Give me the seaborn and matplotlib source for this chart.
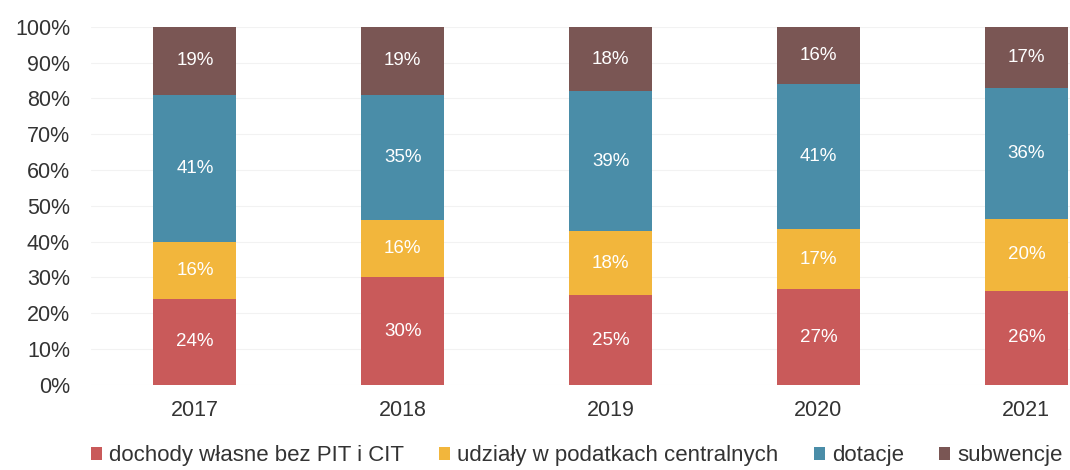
import matplotlib
matplotlib.use("Agg")
import matplotlib.pyplot as plt
from matplotlib.patches import Patch
from matplotlib.ticker import PercentFormatter
import seaborn as sns
import numpy as np

years = ["2017", "2018", "2019", "2020", "2021"]
series_names = ["dochody własne bez PIT i CIT", "udziały w podatkach centralnych", "dotacje", "subwencje"]
dochody = [24, 30, 25, 27, 26]
udzialy = [16, 16, 18, 17, 20]
dotacje = [41, 35, 39, 41, 36]
subwencje = [19, 19, 18, 16, 17]
colors = ["#c95a5a", "#f2b63c", "#4a8da8", "#7a5654"]

sns.set_theme(style="white")
plt.rcParams["font.family"] = ["Liberation Sans", "DejaVu Sans"]

fig = plt.figure(figsize=(10.7, 4.7), dpi=100)
ax = fig.add_axes([0.085, 0.181, 0.915, 0.762])

vals = np.array([dochody, udzialy, dotacje, subwencje], dtype=float)
shares = vals / vals.sum(axis=0)
bottom = np.zeros(len(years))
for i, name in enumerate(series_names):
    sns.barplot(x=years, y=shares[i], bottom=bottom, color=colors[i], width=0.4,
                ax=ax, saturation=1, linewidth=0)
    for j in range(len(years)):
        ax.text(j, bottom[j] + shares[i][j] / 2, f"{int(vals[i][j])}%", ha="center", va="center",
                color="white", fontsize=13.5)
    bottom = bottom + shares[i]

ax.set_ylim(0, 1)
ax.set_xlim(-0.5, 4.21)
ax.set_yticks(np.arange(0, 1.01, 0.1))
ax.yaxis.set_major_formatter(PercentFormatter(1.0, decimals=0))
ax.tick_params(axis="y", labelsize=15.5, pad=15, length=0, colors="#333333")
ax.tick_params(axis="x", labelsize=15.5, pad=11, length=0, colors="#333333")
ax.set_xlabel("")
ax.set_ylabel("")
ax.yaxis.grid(True, color="#f2f2f2", linewidth=0.8)
ax.set_axisbelow(True)
for s in ax.spines.values():
    s.set_visible(False)

handles = [Patch(facecolor=c, edgecolor="none") for c in colors]
fig.legend(handles, series_names, loc="center", bbox_to_anchor=(0.539, 0.03), ncol=4,
           frameon=False, fontsize=16, handlelength=0.5, handleheight=0.5,
           handletextpad=0.3, columnspacing=1.6, labelcolor="#333333",
           borderpad=0, borderaxespad=0)

fig.savefig("out.png", dpi=100)
